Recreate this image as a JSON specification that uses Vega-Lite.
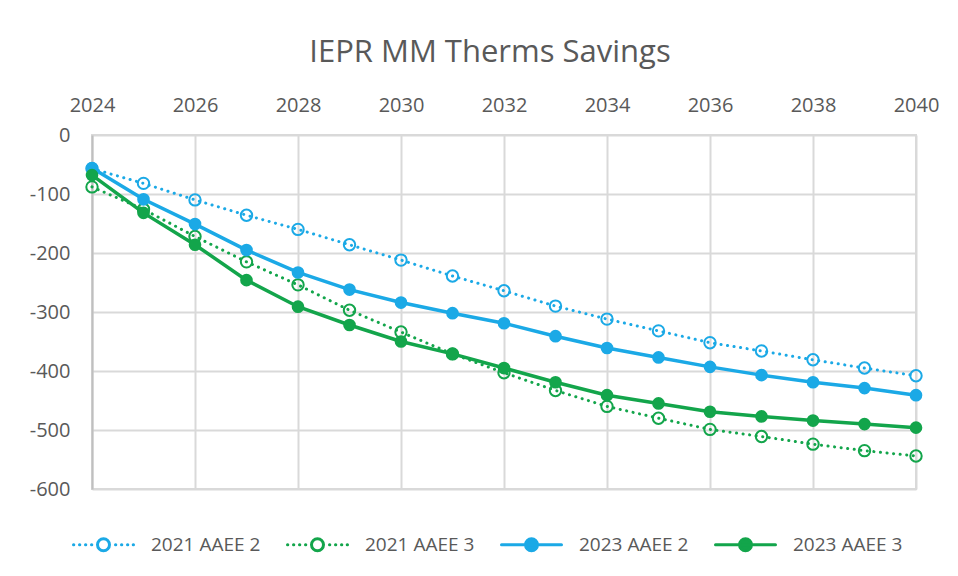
{
  "$schema": "https://vega.github.io/schema/vega-lite/v6.json",
  "width": 824,
  "height": 354,
  "autosize": {"type": "none"},
  "padding": {"left": 92, "top": 135, "right": 42, "bottom": 87},
  "background": "white",
  "title": {
    "text": "IEPR MM Therms Savings",
    "font": "Open Sans",
    "fontSize": 31,
    "fontWeight": "normal",
    "color": "#595959",
    "offset": 26,
    "dx": -14
  },
  "data": {
    "values": [
      {"year": 2024, "series": "2021 AAEE 2", "value": -57},
      {"year": 2025, "series": "2021 AAEE 2", "value": -82},
      {"year": 2026, "series": "2021 AAEE 2", "value": -110},
      {"year": 2027, "series": "2021 AAEE 2", "value": -136},
      {"year": 2028, "series": "2021 AAEE 2", "value": -160},
      {"year": 2029, "series": "2021 AAEE 2", "value": -186},
      {"year": 2030, "series": "2021 AAEE 2", "value": -212},
      {"year": 2031, "series": "2021 AAEE 2", "value": -239},
      {"year": 2032, "series": "2021 AAEE 2", "value": -264},
      {"year": 2033, "series": "2021 AAEE 2", "value": -290},
      {"year": 2034, "series": "2021 AAEE 2", "value": -312},
      {"year": 2035, "series": "2021 AAEE 2", "value": -332},
      {"year": 2036, "series": "2021 AAEE 2", "value": -352},
      {"year": 2037, "series": "2021 AAEE 2", "value": -366},
      {"year": 2038, "series": "2021 AAEE 2", "value": -381},
      {"year": 2039, "series": "2021 AAEE 2", "value": -395},
      {"year": 2040, "series": "2021 AAEE 2", "value": -408},
      {"year": 2024, "series": "2021 AAEE 3", "value": -88},
      {"year": 2025, "series": "2021 AAEE 3", "value": -126},
      {"year": 2026, "series": "2021 AAEE 3", "value": -172},
      {"year": 2027, "series": "2021 AAEE 3", "value": -215},
      {"year": 2028, "series": "2021 AAEE 3", "value": -254},
      {"year": 2029, "series": "2021 AAEE 3", "value": -297},
      {"year": 2030, "series": "2021 AAEE 3", "value": -334},
      {"year": 2031, "series": "2021 AAEE 3", "value": -371},
      {"year": 2032, "series": "2021 AAEE 3", "value": -403},
      {"year": 2033, "series": "2021 AAEE 3", "value": -433},
      {"year": 2034, "series": "2021 AAEE 3", "value": -460},
      {"year": 2035, "series": "2021 AAEE 3", "value": -480},
      {"year": 2036, "series": "2021 AAEE 3", "value": -499},
      {"year": 2037, "series": "2021 AAEE 3", "value": -511},
      {"year": 2038, "series": "2021 AAEE 3", "value": -524},
      {"year": 2039, "series": "2021 AAEE 3", "value": -535},
      {"year": 2040, "series": "2021 AAEE 3", "value": -544},
      {"year": 2024, "series": "2023 AAEE 2", "value": -56},
      {"year": 2025, "series": "2023 AAEE 2", "value": -109},
      {"year": 2026, "series": "2023 AAEE 2", "value": -151},
      {"year": 2027, "series": "2023 AAEE 2", "value": -195},
      {"year": 2028, "series": "2023 AAEE 2", "value": -233},
      {"year": 2029, "series": "2023 AAEE 2", "value": -262},
      {"year": 2030, "series": "2023 AAEE 2", "value": -284},
      {"year": 2031, "series": "2023 AAEE 2", "value": -302},
      {"year": 2032, "series": "2023 AAEE 2", "value": -319},
      {"year": 2033, "series": "2023 AAEE 2", "value": -341},
      {"year": 2034, "series": "2023 AAEE 2", "value": -361},
      {"year": 2035, "series": "2023 AAEE 2", "value": -377},
      {"year": 2036, "series": "2023 AAEE 2", "value": -393},
      {"year": 2037, "series": "2023 AAEE 2", "value": -407},
      {"year": 2038, "series": "2023 AAEE 2", "value": -419},
      {"year": 2039, "series": "2023 AAEE 2", "value": -429},
      {"year": 2040, "series": "2023 AAEE 2", "value": -441},
      {"year": 2024, "series": "2023 AAEE 3", "value": -68},
      {"year": 2025, "series": "2023 AAEE 3", "value": -132},
      {"year": 2026, "series": "2023 AAEE 3", "value": -186},
      {"year": 2027, "series": "2023 AAEE 3", "value": -246},
      {"year": 2028, "series": "2023 AAEE 3", "value": -291},
      {"year": 2029, "series": "2023 AAEE 3", "value": -322},
      {"year": 2030, "series": "2023 AAEE 3", "value": -350},
      {"year": 2031, "series": "2023 AAEE 3", "value": -371},
      {"year": 2032, "series": "2023 AAEE 3", "value": -395},
      {"year": 2033, "series": "2023 AAEE 3", "value": -419},
      {"year": 2034, "series": "2023 AAEE 3", "value": -441},
      {"year": 2035, "series": "2023 AAEE 3", "value": -455},
      {"year": 2036, "series": "2023 AAEE 3", "value": -469},
      {"year": 2037, "series": "2023 AAEE 3", "value": -477},
      {"year": 2038, "series": "2023 AAEE 3", "value": -484},
      {"year": 2039, "series": "2023 AAEE 3", "value": -490},
      {"year": 2040, "series": "2023 AAEE 3", "value": -496}
    ]
  },
  "encoding": {
    "x": {
      "field": "year",
      "type": "quantitative",
      "scale": {"domain": [2024, 2040], "nice": false, "zero": false},
      "axis": {
        "orient": "top",
        "title": null,
        "values": [2024, 2026, 2028, 2030, 2032, 2034, 2036, 2038, 2040],
        "format": "d",
        "domain": false,
        "ticks": false,
        "labelPadding": 20,
        "labelFlush": false,
        "labelOverlap": false,
        "labelBound": false,
        "grid": true
      }
    },
    "y": {
      "field": "value",
      "type": "quantitative",
      "scale": {"domain": [-600, 0], "nice": false},
      "axis": {
        "title": null,
        "values": [0, -100, -200, -300, -400, -500, -600],
        "labelExpr": "datum.value == 0 ? '0' : '-' + abs(datum.value)",
        "domain": true,
        "domainColor": "#bfbfbf",
        "domainWidth": 2,
        "ticks": false,
        "labelPadding": 22,
        "labelFlush": false,
        "labelOverlap": false,
        "grid": true
      }
    }
  },
  "layer": [
    {
      "transform": [{"filter": "indexof(datum.series, '2021') === 0"}],
      "mark": {"type": "line", "strokeWidth": 3, "strokeDash": [0.1, 6.5], "strokeCap": "round"},
      "encoding": {
        "color": {
          "field": "series",
          "type": "nominal",
          "scale": {
            "domain": ["2021 AAEE 2", "2021 AAEE 3", "2023 AAEE 2", "2023 AAEE 3"],
            "range": ["#1BA9E6", "#13A54B", "#1BA9E6", "#13A54B"]
          },
          "legend": {
            "orient": "none",
            "legendX": -20,
            "legendY": 378,
            "direction": "horizontal",
            "title": null,
            "symbolSize": 3600,
            "symbolStrokeWidth": 3,
            "labelFont": "Open Sans",
            "labelFontSize": 19,
            "labelColor": "#595959",
            "labelOffset": 16,
            "columnPadding": 20,
            "labelLimit": 300,
            "encode": {
              "symbols": {
                "update": {
                  "shape": {"signal": "indexof(datum.value, '2021') === 0 ? 'M-1,0L-0.99,0M-0.8,0L-0.79,0M-0.6,0L-0.59,0M-0.4,0L-0.39,0M0.4,0L0.41,0M0.6,0L0.61,0M0.8,0L0.81,0M1,0L0.99,0M0.2,0A0.2,0.2 0 1,1 -0.2,0A0.2,0.2 0 1,1 0.2,0Z' : 'M-1,0L1,0M0.2,0A0.2,0.2 0 1,1 -0.2,0A0.2,0.2 0 1,1 0.2,0Z'"},
                  "stroke": {"scale": "color", "field": "value"},
                  "fill": {"scale": "color", "field": "value"},
                  "fillOpacity": {"signal": "indexof(datum.value, '2023') === 0 ? 1 : 0"},
                  "strokeCap": {"value": "round"},
                  "strokeWidth": {"value": 3},
                  "opacity": {"value": 1}
                }
              }
            }
          }
        }
      }
    },
    {
      "transform": [{"filter": "indexof(datum.series, '2021') === 0"}],
      "mark": {"type": "point", "filled": false, "size": 130, "strokeWidth": 2, "opacity": 1},
      "encoding": {"color": {"field": "series", "type": "nominal", "legend": null}}
    },
    {
      "transform": [{"filter": "indexof(datum.series, '2023') === 0"}],
      "mark": {"type": "line", "strokeWidth": 3.5},
      "encoding": {"color": {"field": "series", "type": "nominal", "legend": null}}
    },
    {
      "transform": [{"filter": "indexof(datum.series, '2023') === 0"}],
      "mark": {"type": "point", "filled": true, "size": 160, "opacity": 1},
      "encoding": {"color": {"field": "series", "type": "nominal", "legend": null}}
    }
  ],
  "config": {
    "view": {"stroke": "#d9d9d9", "strokeWidth": 2},
    "axis": {
      "labelFont": "Open Sans",
      "labelFontSize": 20,
      "labelColor": "#595959",
      "gridColor": "#d9d9d9",
      "gridWidth": 2
    }
  }
}
